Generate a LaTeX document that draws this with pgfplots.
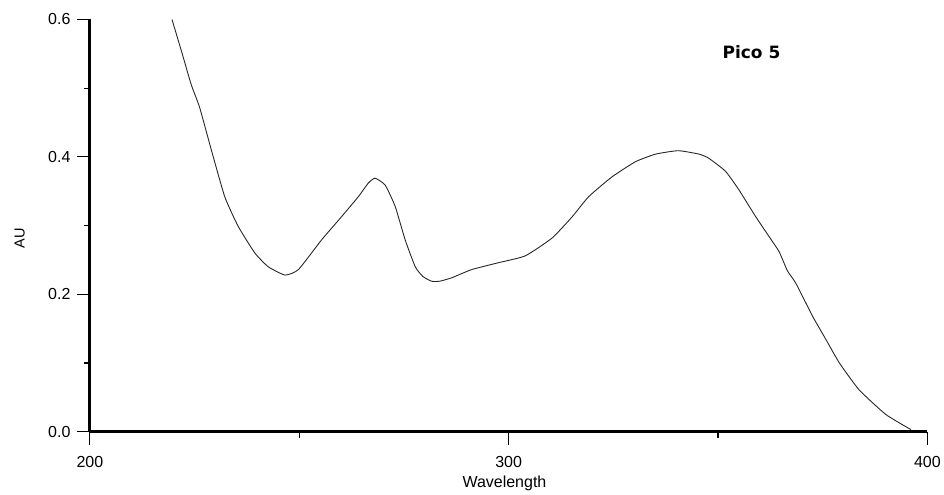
\documentclass[border=0pt]{standalone}
\usepackage{pgfplots}
\pgfplotsset{compat=1.18}
\usepackage{fontspec}
\setmainfont{Liberation Sans}
\newfontfamily\picofont{DejaVu Sans}
\begin{document}
\begin{tikzpicture}
\begin{axis}[
  name=ax,
  scale only axis,
  width=838pt, height=412.5pt,
  xmin=200, xmax=400, ymin=0, ymax=0.6,
  axis x line=bottom, axis y line=left,
  axis line style={-, line width=3pt, black},
  xtick={200,300,400}, minor xtick={250,350},
  ytick={0,0.2,0.4,0.6}, minor ytick={0.1,0.3,0.5},
  tick align=outside,
  major tick length=13pt, minor tick length=6pt,
  tick style={line width=1.1pt, black},
  /pgf/number format/assume math mode=true,
  tick label style={font=\fontsize{16}{19}\selectfont},
  yticklabel style={xshift=-3pt, font=\fontsize{16}{19}\selectfont, /pgf/number format/.cd, fixed, fixed zerofill, precision=1},
  xticklabel style={yshift=-8pt, font=\fontsize{16}{19}\selectfont, /pgf/number format/.cd, fixed, precision=0},
  label style={font=\fontsize{16}{19}\selectfont},
  xlabel={Wavelength},
  ylabel={AU},
  xlabel style={at={(axis description cs:0.495,-0.126)}, anchor=center},
  ylabel style={at={(axis description cs:-0.084,0.47)}, anchor=center, font=\fontsize{14.5}{17}\selectfont},
  clip=false,
]
\addplot[black!85, line width=0.9pt, smooth, tension=0.3] coordinates {
(219.6,0.600) (222.0,0.551) (224.2,0.505) (226.2,0.472) (229.0,0.410)
(232.2,0.342) (235.4,0.299) (239.4,0.260) (242.6,0.240) (246.6,0.228)
(249.8,0.236) (255.3,0.279) (260.1,0.313) (264.1,0.342) (266.5,0.362)
(268.1,0.369) (270.5,0.359) (272.9,0.328) (275.3,0.279) (277.7,0.240)
(279.5,0.226) (281.6,0.219) (283.5,0.219) (286.4,0.224) (291.2,0.236)
(297.6,0.246) (304.0,0.256) (310.4,0.282) (315.2,0.313) (319.1,0.342)
(324.7,0.371) (330.3,0.393) (335.1,0.404) (340.5,0.409) (345.5,0.404)
(347.8,0.398) (351.8,0.379) (355.0,0.352) (359.0,0.313) (362.2,0.284)
(364.6,0.262) (366.6,0.234) (368.6,0.216) (372.6,0.168) (375.8,0.134)
(379.0,0.100) (383.7,0.061) (390.1,0.025) (396.1,0.003)
};
\node[font=\picofont\bfseries\fontsize{17}{20}\selectfont] at (axis cs:358,0.553) {Pico 5};
\end{axis}
\path[use as bounding box] ([shift={(-90pt,-63pt)}]ax.south west) rectangle ([shift={(16pt,19.5pt)}]ax.north east);
\end{tikzpicture}
\end{document}
